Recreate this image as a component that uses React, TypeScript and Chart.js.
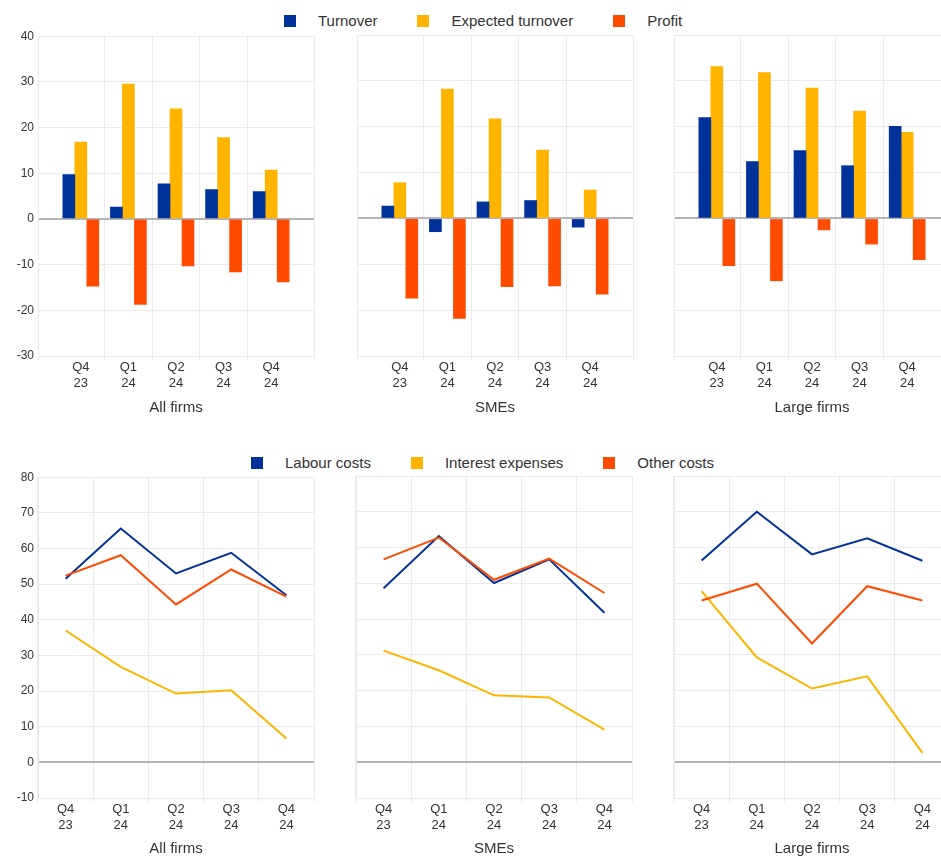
import React, { useEffect, useRef } from 'react';
import { Chart, registerables } from 'chart.js';

Chart.register(...registerables);

// ---------- data ----------
const QUARTERS: string[][] = [['Q4', '23'], ['Q1', '24'], ['Q2', '24'], ['Q3', '24'], ['Q4', '24']];
const PANEL_TITLES = ['All firms', 'SMEs', 'Large firms'];

const BAR_SERIES = ['Turnover', 'Expected turnover', 'Profit'];
const turnoverAll = [9.7, 2.6, 7.7, 6.4, 6.0];
const expTurnoverAll = [16.8, 29.5, 24.1, 17.8, 10.7];
const profitAll = [-14.7, -18.7, -10.3, -11.6, -13.8];
const turnoverSME = [2.7, -2.9, 3.6, 3.9, -1.9];
const expTurnoverSME = [7.8, 28.2, 21.7, 14.9, 6.2];
const profitSME = [-17.4, -21.8, -14.9, -14.7, -16.5];
const turnoverLarge = [22.0, 12.4, 14.8, 11.5, 20.1];
const expTurnoverLarge = [33.1, 31.8, 28.4, 23.4, 18.8];
const profitLarge = [-10.3, -13.6, -2.5, -5.6, -9.0];

const LINE_SERIES = ['Labour costs', 'Interest expenses', 'Other costs'];
const labourAll = [51.5, 65.6, 53.0, 58.8, 46.9];
const interestAll = [37.0, 26.8, 19.3, 20.2, 6.7];
const otherAll = [52.4, 58.1, 44.3, 54.1, 46.5];
const labourSME = [48.6, 63.2, 50.1, 56.7, 41.8];
const interestSME = [31.2, 25.7, 18.7, 18.1, 9.1];
const otherSME = [56.7, 62.8, 51.0, 56.9, 47.3];
const labourLarge = [56.4, 70.0, 58.1, 62.6, 56.3];
const interestLarge = [47.8, 29.3, 20.6, 24.0, 2.6];
const otherLarge = [45.2, 49.9, 33.2, 49.2, 45.2];

const BAR_Y_MIN = -30;
const BAR_Y_MAX = 40;
const LINE_Y_MIN = -10;
const LINE_Y_MAX = 80;
const Y_STEP = 10;

// ---------- styles ----------
const COLORS = ['#003299', '#ffb400', '#ff4b00'];
const GRID = '#ebebeb';
const ZERO = '#b4b4b4';
const TEXT = '#333333';
const FONT = "'Liberation Sans', Arial, Helvetica, sans-serif";

Chart.defaults.font.family = FONT;
Chart.defaults.color = TEXT;

const Y_AXIS_W = 38;
const PLOT_W = 276;
const PAD_R = 4;
const PAD_T = 10;

function yAxis(min: number, max: number, showLabels: boolean) {
  return {
    min,
    max,
    ticks: { stepSize: Y_STEP, display: showLabels, font: { size: 12 }, padding: 4, color: TEXT },
    grid: {
      drawTicks: false,
      color: (ctx: any) => (ctx.tick && ctx.tick.value === 0 ? ZERO : GRID),
      lineWidth: (ctx: any) => (ctx.tick && ctx.tick.value === 0 ? 2 : 1),
    },
    border: { display: true, color: GRID },
    afterFit: (s: any) => {
      s.width = Y_AXIS_W;
    },
  };
}

function titleOpt(text: string) {
  return {
    display: true,
    text,
    font: { size: 15 },
    color: TEXT,
    padding: { top: 0, bottom: 3 },
  };
}

function barConfig(title: string, series: number[][], showY: boolean): any {
  const gridTicks = [-0.9, 0.5, 1.5, 2.5, 3.5, 4.9];
  return {
    type: 'bar',
    data: {
      datasets: series.map((vals, i) => ({
        label: BAR_SERIES[i],
        data: vals.map((v, j) => ({ x: j, y: v })),
        backgroundColor: COLORS[i],
        borderWidth: 0,
        barThickness: 12,
      })),
    },
    options: {
      animation: false,
      responsive: false,
      maintainAspectRatio: false,
      layout: { padding: { top: PAD_T, right: PAD_R, left: 0, bottom: 0 } },
      plugins: { legend: { display: false }, tooltip: { enabled: false } },
      scales: {
        x: {
          type: 'linear',
          min: -0.9,
          max: 4.9,
          offset: false,
          afterBuildTicks: (s: any) => {
            const vals = [...gridTicks, 0, 1, 2, 3, 4].sort((a, b) => a - b);
            s.ticks = vals.map((v) => ({ value: v }));
          },
          afterFit: (s: any) => {
            s.height = 64;
          },
          ticks: {
            autoSkip: false,
            maxRotation: 0,
            minRotation: 0,
            padding: 0,
            font: { size: 13 },
            color: TEXT,
            callback: (v: number) => (Number.isInteger(v) && QUARTERS[v] ? QUARTERS[v] : ''),
          },
          grid: {
            offset: false,
            tickLength: 4,
            color: (ctx: any) =>
              ctx.tick && Number.isInteger(ctx.tick.value) ? 'rgba(0,0,0,0)' : GRID,
          },
          border: { display: true, color: GRID },
          title: titleOpt(title),
        },
        y: yAxis(BAR_Y_MIN, BAR_Y_MAX, showY),
      },
    },
  };
}

function lineConfig(title: string, series: number[][], showY: boolean): any {
  const order = [2, 1, 0];
  return {
    type: 'line',
    data: {
      labels: QUARTERS,
      datasets: series.map((vals, i) => ({
        label: LINE_SERIES[i],
        data: vals,
        borderColor: COLORS[i],
        backgroundColor: COLORS[i],
        borderWidth: 2,
        pointRadius: 0,
        tension: 0,
        order: order[i],
      })),
    },
    options: {
      animation: false,
      responsive: false,
      maintainAspectRatio: false,
      layout: { padding: { top: PAD_T, right: PAD_R, left: 0, bottom: 0 } },
      plugins: { legend: { display: false }, tooltip: { enabled: false } },
      scales: {
        x: {
          type: 'category',
          offset: true,
          afterFit: (s: any) => {
            s.height = 63;
          },
          ticks: { autoSkip: false, maxRotation: 0, minRotation: 0, padding: 0, font: { size: 13 }, color: TEXT },
          grid: { offset: true, tickLength: 4, color: GRID },
          border: { display: true, color: GRID },
          title: titleOpt(title),
        },
        y: yAxis(LINE_Y_MIN, LINE_Y_MAX, showY),
      },
    },
  };
}

function Panel(props: { left: number; top: number; height: number; config: any }) {
  const ref = useRef<HTMLCanvasElement | null>(null);
  useEffect(() => {
    if (!ref.current) return;
    const chart = new Chart(ref.current, props.config);
    return () => chart.destroy();
  }, []);
  const width = Y_AXIS_W + PLOT_W + PAD_R;
  return (
    <canvas
      ref={ref}
      width={width}
      height={props.height}
      style={{ position: 'absolute', left: props.left - Y_AXIS_W, top: props.top, width, height: props.height, display: 'block' }}
    />
  );
}

function Legend(props: { left: number; top: number; names: string[] }) {
  return (
    <div
      style={{
        position: 'absolute',
        left: props.left,
        top: props.top,
        display: 'flex',
        alignItems: 'center',
        fontFamily: FONT,
        fontSize: 15,
        color: TEXT,
        whiteSpace: 'nowrap',
        lineHeight: '18px',
      }}
    >
      {props.names.map((n, i) => (
        <div key={n} style={{ display: 'flex', alignItems: 'center', marginRight: 40 }}>
          <span style={{ width: 12, height: 12, background: COLORS[i], display: 'inline-block', marginRight: 22 }} />
          <span>{n}</span>
        </div>
      ))}
    </div>
  );
}

const BAR_PANELS = [
  [turnoverAll, expTurnoverAll, profitAll],
  [turnoverSME, expTurnoverSME, profitSME],
  [turnoverLarge, expTurnoverLarge, profitLarge],
];
const LINE_PANELS = [
  [labourAll, interestAll, otherAll],
  [labourSME, interestSME, otherSME],
  [labourLarge, interestLarge, otherLarge],
];

export default function App() {
  const topLefts = [38, 357, 674];
  const botLefts = [38, 356, 674];
  return (
    <div style={{ position: 'absolute', left: 0, top: 0, width: 941, height: 856, overflow: 'hidden', background: '#fff' }}>
      <Legend left={284} top={12} names={BAR_SERIES} />
      {BAR_PANELS.map((s, i) => (
        <Panel key={'b' + i} left={topLefts[i]} top={35 - PAD_T} height={395} config={barConfig(PANEL_TITLES[i], s, i === 0)} />
      ))}
      <Legend left={251} top={454} names={LINE_SERIES} />
      {LINE_PANELS.map((s, i) => (
        <Panel key={'l' + i} left={botLefts[i]} top={476 - PAD_T} height={395} config={lineConfig(PANEL_TITLES[i], s, i === 0)} />
      ))}
    </div>
  );
}
